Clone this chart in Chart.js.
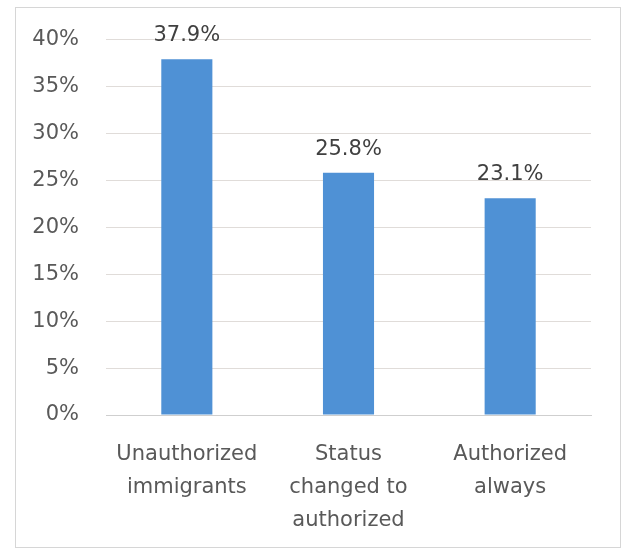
<!DOCTYPE html>
<html>
<head>
<meta charset="utf-8">
<script src="https://cdn.jsdelivr.net/npm/chart.js@4/dist/chart.umd.min.js"></script>
<style>
  html, body { margin: 0; padding: 0; background: #ffffff; }
  #wrap { width: 624px; height: 551px; position: relative; }
</style>
</head>
<body>
<div id="wrap"><canvas id="chart" width="624" height="551"></canvas></div>
<script>
// Share of each group (percent)
const categories = [
  ['Unauthorized', 'immigrants'],
  ['Status', 'changed to', 'authorized'],
  ['Authorized', 'always']
];
const shares = [37.9, 25.8, 23.1];
const tickValues = [0, 5, 10, 15, 20, 25, 30, 35, 40];

const FONT = '"DejaVu Sans", sans-serif';
const TEXT = '#595959';

// Outer frame and white background
const framePlugin = {
  id: 'frame',
  beforeDraw(chart) {
    const ctx = chart.ctx;
    ctx.save();
    ctx.fillStyle = '#ffffff';
    ctx.fillRect(0, 0, chart.width, chart.height);
    ctx.strokeStyle = '#d6d6d6';
    ctx.lineWidth = 1;
    ctx.strokeRect(15.5, 7.5, 605, 540);
    ctx.restore();
  }
};

// Value labels above each bar
const valueLabels = {
  id: 'valueLabels',
  afterDatasetsDraw(chart) {
    const ctx = chart.ctx;
    const meta = chart.getDatasetMeta(0);
    const values = chart.data.datasets[0].data;
    ctx.save();
    ctx.font = '21px ' + FONT;
    ctx.fillStyle = '#404040';
    ctx.textAlign = 'center';
    ctx.textBaseline = 'alphabetic';
    meta.data.forEach((bar, i) => {
      ctx.fillText(values[i].toFixed(1) + '%', bar.x, bar.y - 18);
    });
    ctx.restore();
  }
};

new Chart(document.getElementById('chart'), {
  type: 'bar',
  data: {
    labels: categories,
    datasets: [{
      data: shares,
      backgroundColor: '#4f91d5',
      borderWidth: 0,
      barPercentage: 0.316,
      categoryPercentage: 1.0
    }]
  },
  options: {
    responsive: false,
    animation: false,
    devicePixelRatio: 1,
    layout: { padding: { top: 38, right: 33, left: 0, bottom: 0 } },
    plugins: {
      legend: { display: false },
      tooltip: { enabled: false }
    },
    scales: {
      x: {
        grid: { display: false, drawTicks: false },
        border: { display: true, color: '#cfcfcf', width: 1 },
        ticks: {
          color: TEXT,
          font: { family: FONT, size: 21, lineHeight: 1.57 },
          padding: 23,
          maxRotation: 0,
          autoSkip: false
        },
        afterFit(axis) { axis.height = 136; }
      },
      y: {
        min: 0,
        max: 40,
        afterBuildTicks(axis) { axis.ticks = tickValues.map(v => ({ value: v })); },
        grid: { color: '#e0dcd9', lineWidth: 1, drawTicks: false },
        border: { display: false },
        ticks: {
          color: TEXT,
          font: { family: FONT, size: 21 },
          padding: 27,
          callback: v => v + '%'
        },
        afterFit(axis) { axis.width = 106; }
      }
    }
  },
  plugins: [framePlugin, valueLabels]
});
</script>
</body>
</html>
